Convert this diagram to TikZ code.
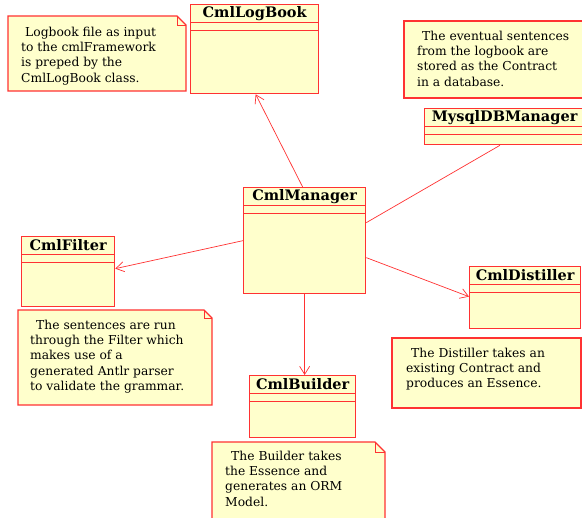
\documentclass[tikz,border=0pt]{standalone}
\usepackage{fontspec}
\setmainfont{DejaVu Serif}
\usetikzlibrary{arrows.meta,calc}
\definecolor{boxred}{RGB}{255,50,50}
\definecolor{noteyellow}{RGB}{255,255,204}
\tikzset{
  classbox/.style={draw=boxred, color=boxred, fill=noteyellow, line width=1.3pt, inner sep=0pt, anchor=north west},
  classtitle/.style={inner sep=0pt, text=black, font=\bfseries\fontsize{14.5}{16}\selectfont},
  classsep/.style={draw=boxred, line width=1pt},
  notebody/.style={draw=boxred, fill=noteyellow, line width=1.2pt},
  notetext/.style={inner sep=0pt, anchor=north west, align=left, text=black, font=\fontsize{12.3}{15.4}\selectfont},
  assoc/.style={draw=boxred, line width=0.7pt},
  navarrow/.style={assoc, -{Straight Barb[length=8pt,width=10pt,line width=0.7pt]}},
}
\newcommand\umlclassbox[6]{%
  \node[classbox, minimum width=#4pt, minimum height=#5pt] (#1) at (#2,#3) {};
  \node[classtitle] (#1-title) at ([yshift=-9.5pt]#1.north) {#6};
  \draw[classsep] ([yshift=-19pt]#1.north west) -- ([yshift=-19pt]#1.north east);
  \draw[classsep] ([yshift=-27pt]#1.north west) -- ([yshift=-27pt]#1.north east);
}
% note shape: x1 y1 x2 y2 ear
\newcommand\umlnoteshape[5]{%
  \draw[notebody] (#1,#2) -- ({#3-#5},#2) -- (#3,{#2+#5}) -- (#3,#4) -- (#1,#4) -- cycle;
  \draw[boxred, line width=0.7pt] ({#3-#5},#2) -- ({#3-#5},{#2+#5}) -- (#3,{#2+#5});
}
\begin{document}
\begin{tikzpicture}[x=1pt,y=-1pt]
\useasboundingbox (0,0) rectangle (582,518);
\clip (0,0) rectangle (582,518);
\fill[white] (0,0) rectangle (582,518);

% notes
\umlnoteshape{8}{16}{186}{91}{9}
\node[notetext] (note-logbook) at (21,26.5) {\hspace*{4pt}Logbook file as input\\to the cmlFramework\\is preped by the\\CmlLogBook class.};
\draw[notebody] (404,21) rectangle (600,98);
\node[notetext] (note-db) at (417,30.5) {\hspace*{5pt}The eventual sentences\\from the logbook are\\stored as the Contract\\in a database.};
\umlnoteshape{18}{310}{212}{405}{8}
\node[notetext] (note-filter) at (30,319.5) {\hspace*{6pt}The sentences are run\\through the Filter which\\makes use of a\\generated Antlr parser\\to validate the grammar.};
\draw[notebody] (392,338) rectangle (581,408);
\node[notetext] (note-distiller) at (406,347.5) {\hspace*{5pt}The Distiller takes an\\existing Contract and\\produces an Essence.};
\umlnoteshape{212}{442}{385}{530}{10}
\node[notetext] (note-builder) at (225,450.5) {\hspace*{6pt}The Builder takes\\the Essence and\\generates an ORM\\Model.};

% classes
\umlclassbox{logbook}{190}{4}{128}{89}{CmlLogBook}
\umlclassbox{mysql}{424}{108}{160}{36}{MysqlDBManager}
\umlclassbox{manager}{243}{187}{122}{106}{CmlManager}
\umlclassbox{filter}{21}{236}{93}{70}{CmlFilter}
\umlclassbox{distiller}{469}{266}{111}{62}{CmlDistiller}
\umlclassbox{builder}{249}{375}{106}{62}{CmlBuilder}

% connectors
\draw[navarrow] ([xshift=-2pt]manager.north) -- ([xshift=1pt]logbook.south);
\draw[navarrow] (manager.west) -- ([yshift=3pt]filter.east);
\draw[navarrow] ([yshift=-17pt]manager.east) -- ([yshift=1pt]distiller.west);
\draw[assoc] ([yshift=18pt]manager.east) -- ([xshift=76pt]mysql.south west);
\draw[navarrow] (manager.south) -- (manager.south |- builder.north);
\end{tikzpicture}
\end{document}
